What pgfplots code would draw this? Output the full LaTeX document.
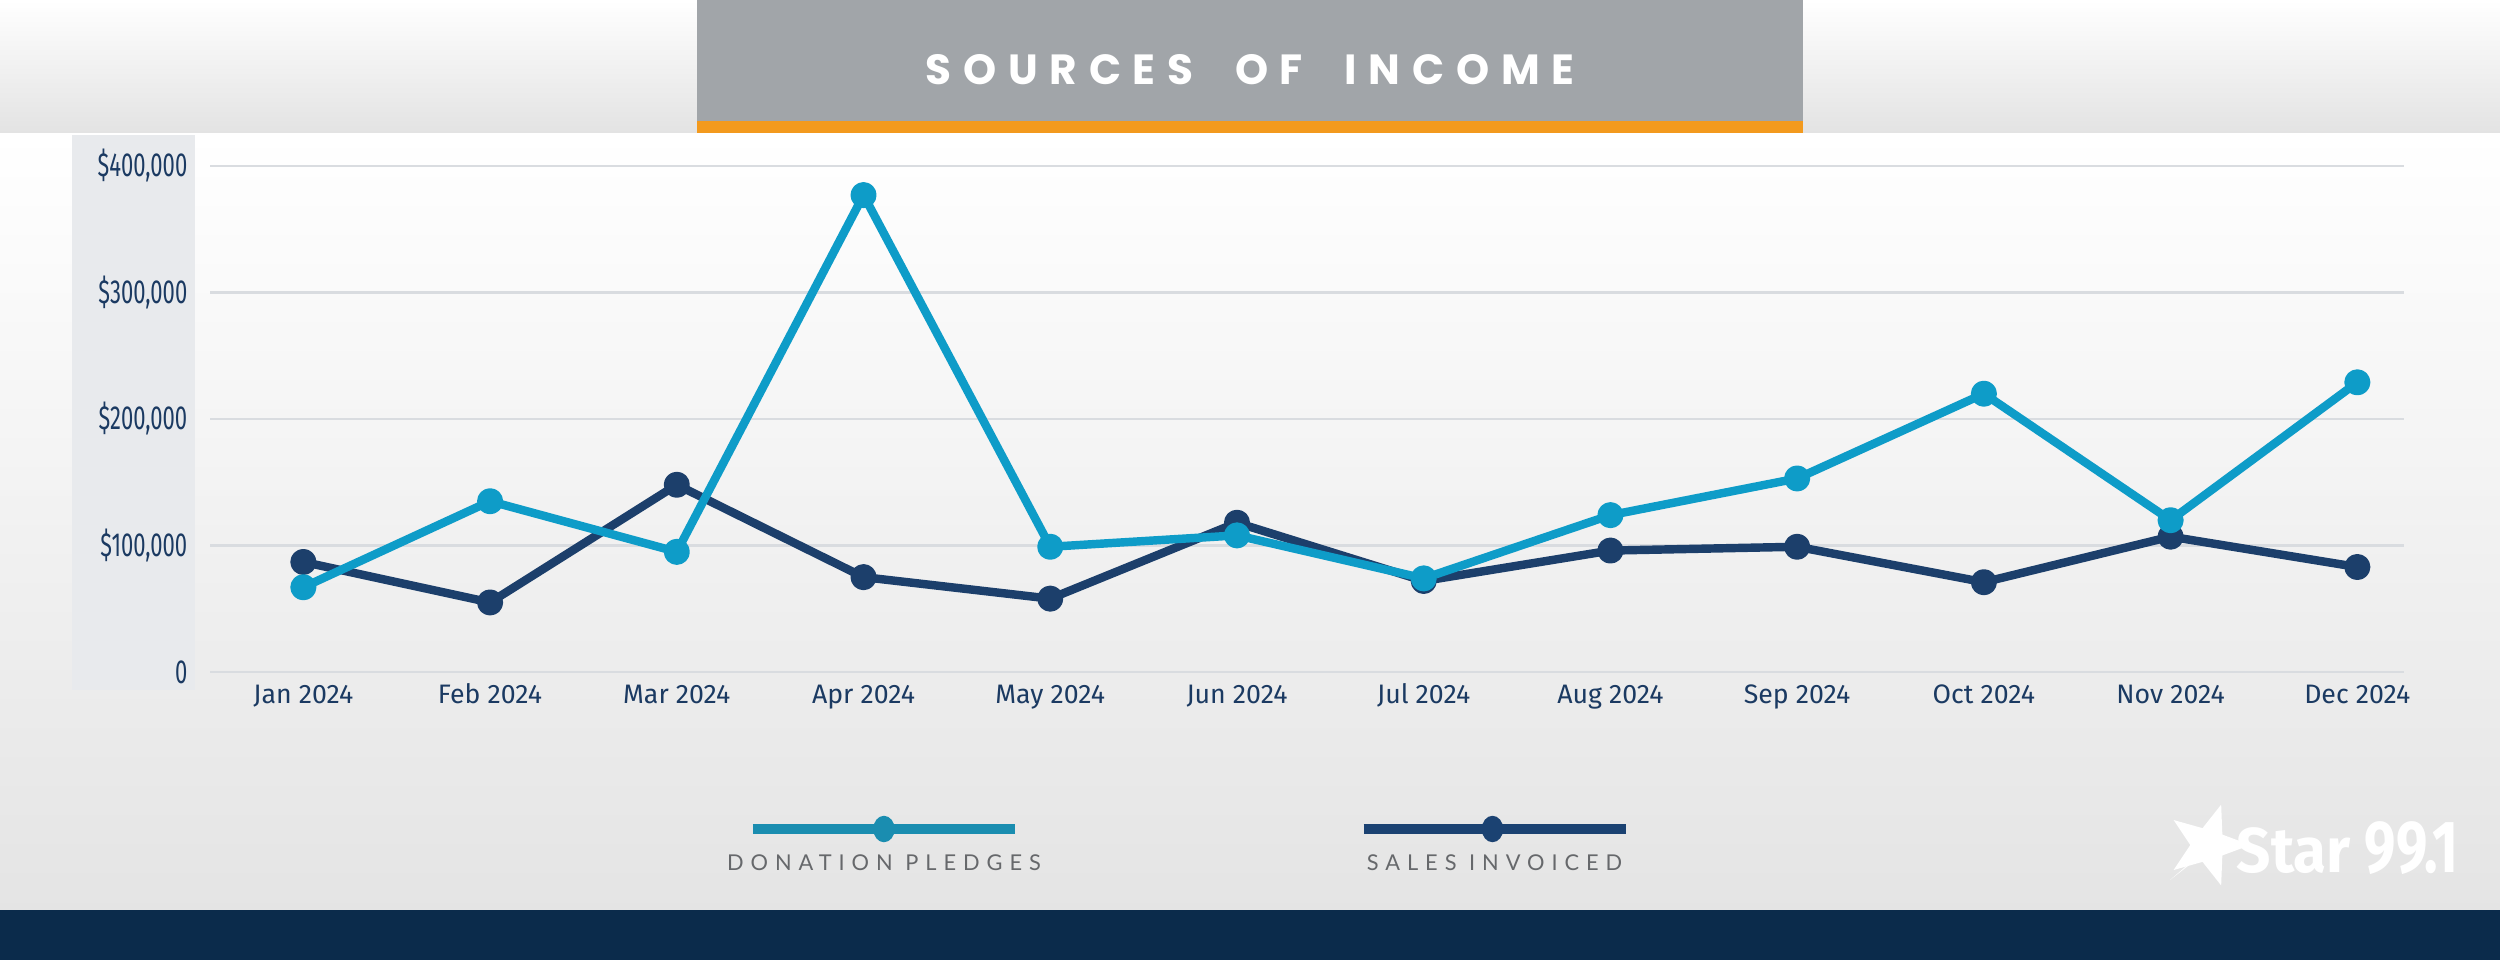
\documentclass[border=0pt]{standalone}
\usepackage{fontspec}
\usepackage{pgfplots}
\pgfplotsset{compat=1.18}
\usetikzlibrary{shapes.geometric}
\setmainfont{Fira Sans}
\newfontfamily\titlefont[LetterSpace=28, WordSpace=2.0]{Poppins}
\newfontfamily\ytickfont[FakeStretch=0.66]{Fira Sans}
\newfontfamily\legfont[LetterSpace=32]{Lato}
\newfontfamily\logofont[FakeStretch=0.95]{Fira Sans}
\newfontfamily\logonum[FakeStretch=0.76]{Fira Sans}

\definecolor{donation}{HTML}{0E9CC8}
\definecolor{sales}{HTML}{1C3F6B}
\definecolor{legdon}{HTML}{1A8DB0}
\definecolor{legsal}{HTML}{1B4272}
\definecolor{navytext}{HTML}{1B3A62}
\definecolor{titlegray}{HTML}{A1A5A9}
\definecolor{orangebar}{HTML}{F39A1E}
\definecolor{panel}{HTML}{E8EAED}
\definecolor{gridc}{HTML}{D9DCE0}
\definecolor{basec}{HTML}{8E9DB2}
\definecolor{legtext}{HTML}{66686B}
\definecolor{bottomnavy}{HTML}{0B2B4B}

\begin{document}
\begin{tikzpicture}
% background
\fill[white] (0,0) rectangle (25,9.6);
\shade[top color=white, bottom color=gray!22] (0,8.27) rectangle (25,9.6);
\shade[top color=white, middle color=white, bottom color=gray!21] (0,0.5) rectangle (25,8.27);
\fill[bottomnavy] (0,0) rectangle (25,0.5);
% title box
\fill[titlegray] (6.97,8.39) rectangle (18.03,9.6);
\fill[orangebar] (6.97,8.27) rectangle (18.03,8.39);
\node[text=white, font=\titlefont\bfseries\fontsize{12}{14}\selectfont] at (12.5,8.90) {SOURCES OF INCOME};
% y label panel
\fill[panel] (0.72,2.70) rectangle (1.95,8.25);

\begin{axis}[
    at={(2.10cm,2.88cm)}, anchor=south west,
    scale only axis, width=21.94cm, height=5.06cm,
    xmin=-0.5, xmax=11.25, ymin=0, ymax=400000,
    axis line style={draw=none},
    tick style={draw=none},
    xtick={0,1,2,3,4,5,6,7,8,9,10,11},
    xticklabels={Jan 2024,Feb 2024,Mar 2024,Apr 2024,May 2024,Jun 2024,Jul 2024,Aug 2024,Sep 2024,Oct 2024,Nov 2024,Dec 2024},
    ytick={0,100000,200000,300000,400000},
    yticklabels={0,{\$100,000},{\$200,000},{\$300,000},{\$400,000}},
    scaled y ticks=false,
    ymajorgrids,
    major grid style={color=gridc, line width=0.6pt},
    extra y ticks={0},
    extra y tick labels={},
    extra y tick style={grid style={color=basec, line width=0.6pt}},
    xticklabel style={font=\fontsize{7.6}{9}\selectfont, text=navytext, anchor=base, yshift=-0.31cm},
    yticklabel style={font=\ytickfont\fontsize{9.5}{11}\selectfont, text=navytext, anchor=east, inner sep=0pt, xshift=-0.22cm},
    clip=false,
    legend columns=2,
    legend style={draw=none, fill=none, inner sep=0pt, outer sep=0pt,
        row sep=0pt, column sep=0pt,
        nodes={inner sep=0pt},
        /tikz/every even column/.append style={column sep=3.35cm},
        at={(0.2452,-0.3103)}, anchor=west},
]
% Sales Invoiced
\addplot[sales, line width=2.4pt, line join=round, mark=*, mark size=2.5pt, mark options={solid}, forget plot] coordinates {
    (0, 87000) (1, 55000) (2, 148000) (3, 75000) (4, 58000) (5, 118000)
    (6, 72000) (7, 96000) (8, 99000) (9, 71000) (10, 107000) (11, 83000)
};
% Donation Pledges
\addplot[donation, line width=2.4pt, line join=round, mark=*, mark size=2.5pt, mark options={solid}, forget plot] coordinates {
    (0, 67000) (1, 135000) (2, 95000) (3, 377000) (4, 99000) (5, 108000)
    (6, 74000) (7, 124000) (8, 153000) (9, 220000) (10, 120000) (11, 229000)
};

\addlegendimage{legend image code/.code={
    \draw[legdon, line width=2.85pt] (0cm,0cm) -- (2.62cm,0cm);
    \fill[legdon] (1.31cm,0cm) ellipse [x radius=0.1cm, y radius=0.125cm];
    \node[overlay, anchor=base, text=legtext, font=\legfont\fontsize{6.2}{7}\selectfont, inner sep=0pt] at (1.31cm,-0.41cm) {DONATION PLEDGES};
}}
\addlegendentry{\mbox{}}
\addlegendimage{legend image code/.code={
    \draw[legsal, line width=2.85pt] (0cm,0cm) -- (2.62cm,0cm);
    \fill[legsal] (1.29cm,0cm) ellipse [x radius=0.1cm, y radius=0.125cm];
    \node[overlay, anchor=base, text=legtext, font=\legfont\fontsize{6.2}{7}\selectfont, inner sep=0pt] at (1.31cm,-0.41cm) {SALES INVOICED};
}}
\addlegendentry{\mbox{}}
\end{axis}

% logo
\node[star, star points=5, star point ratio=2.4, fill=white, minimum size=0.85cm, inner sep=0pt, rotate=-18] at (22.08,1.15) {};
\fill[white] (21.70,0.80) -- (22.05,1.10) -- (21.93,0.98) -- cycle;
\node[anchor=base west, text=white, inner sep=0pt, font=\logofont\bfseries\fontsize{18}{18}\selectfont] at (22.36,0.88) {Star};
\node[anchor=base west, text=white, inner sep=0pt, font=\logonum\bfseries\fontsize{21}{21}\selectfont] at (23.64,0.88) {99.1};

\pgfresetboundingbox
\path[use as bounding box] (0,0) rectangle (25,9.6);
\end{tikzpicture}
\end{document}
